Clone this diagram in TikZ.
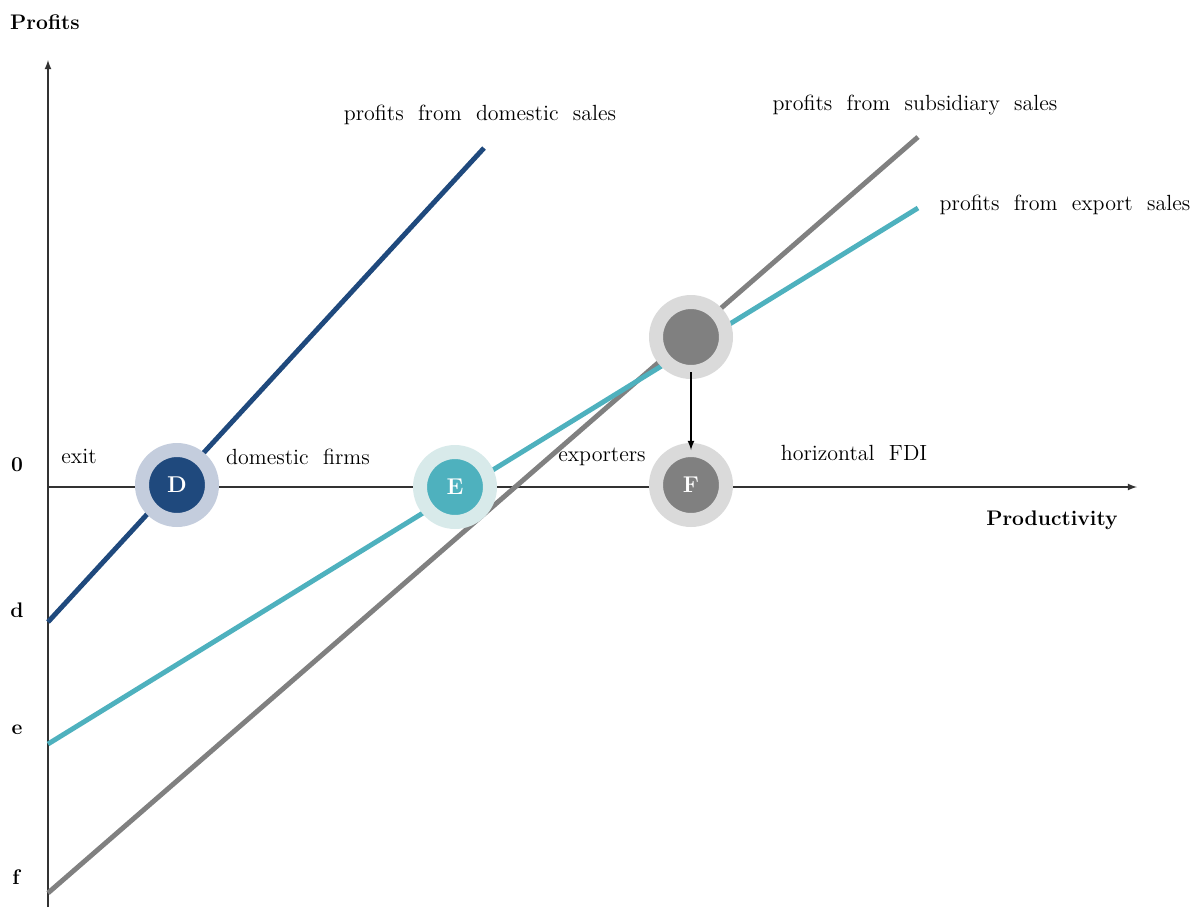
\documentclass[tikz,border=0pt]{standalone}
\usepackage{tikz}
\usetikzlibrary{arrows}
\definecolor{domblue}{RGB}{31,73,125}
\definecolor{domhalo}{RGB}{196,205,221}
\definecolor{exteal}{RGB}{78,177,190}
\definecolor{exhalo}{RGB}{216,234,234}
\definecolor{fdigray}{RGB}{128,128,128}
\definecolor{fdihalo}{RGB}{218,218,218}
\definecolor{axisgray}{RGB}{50,50,50}

\begin{document}
\begin{tikzpicture}[x=0.02cm,y=-0.02cm,font=\fontsize{12.5}{14}\selectfont,
	axis/.style={line width=0.8pt,axisgray,-latex},
	profit/.style={line width=2.8pt},
	firm/.style={circle,minimum size=1.4cm,inner sep=0,outer sep=0,line width=0.28cm,text=white,font=\bfseries\fontsize{13}{15}\selectfont},
	lab/.style={inner sep=0},
	axlab/.style={inner sep=0,font=\bfseries\fontsize{12}{14}\selectfont}]
	\useasboundingbox (0,0) rectangle (1198,907);
	% axes
	\coordinate (o) at (48,487);
	\coordinate (ytop) at (48,60);
	\coordinate (ybot) at (48,907);
	\coordinate (xend) at (1137,487);
	\draw[axis] (ybot) -- (ytop);
	\draw[axis] (o) -- (xend);
	\node[axlab] (profits) at (45,22) {Profits};
	\node[axlab] (prod) at (1052,520) {Productivity};
	\node[axlab] (zero) at (17,465) {0};
	\node[axlab] (dlab) at (17,610) {d};
	\node[axlab] (elab) at (17,730) {e};
	\node[axlab] (flab) at (16,877) {f};
	% profit lines
	\coordinate (d0) at (48,622);
	\coordinate (d1) at (484,148);
	\coordinate (e0) at (48,744);
	\coordinate (e1) at (918,208);
	\coordinate (f0) at (48,893);
	\coordinate (f1) at (918,137);
	\draw[profit,fdigray] (f0) -- (f1);
	\draw[profit,exteal] (e0) -- (e1);
	\draw[profit,domblue] (d0) -- (d1);
	\node[lab] (domsales) at (480,115) {profits\ \ from\ \ domestic\ \ sales};
	\node[lab] (subsales) at (915,105) {profits\ \ from\ \ subsidiary\ \ sales};
	\node[lab] (expsales) at (1065,205) {profits\ \ from\ \ export\ \ sales};
	% thresholds
	\node[firm,fill=domblue,draw=domhalo] (D) at (177,485) {D};
	\node[firm,fill=exteal,draw=exhalo] (E) at (455,487) {E};
	\node[firm,fill=fdigray,draw=fdihalo] (Fup) at (691,337) {};
	\node[firm,fill=fdigray,draw=fdihalo] (F) at (691,485) {F};
	\draw[-latex,line width=0.8pt] (Fup) -- (F);
	\node[lab] (exit) at (79,456) {exit};
	\node[lab] (domfirms) at (298,457) {domestic\ \ firms};
	\node[lab] (exporters) at (602,457) {exporters};
	\node[lab] (hfdi) at (854,453) {horizontal\ \ FDI};
\end{tikzpicture}
\end{document}
